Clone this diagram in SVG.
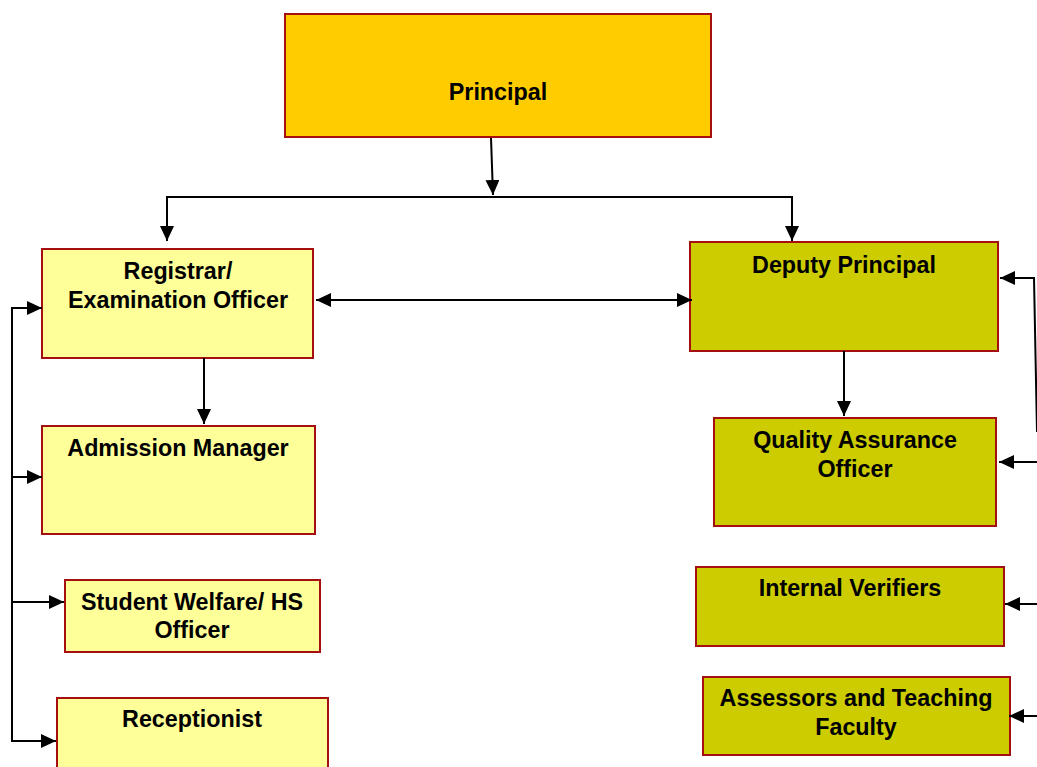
<svg xmlns="http://www.w3.org/2000/svg" width="1037" height="767" viewBox="0 0 1037 767">
<style>
.box{stroke:#A50F0F;stroke-width:2}
.p{fill:#FFCC00}
.y{fill:#FFFF99}
.o{fill:#CCCC00}
text{font-family:"Liberation Sans",Arial,sans-serif;font-weight:bold;font-size:23.3px;fill:#000;text-anchor:middle}
.c{stroke:#000;stroke-width:2;fill:none}
</style>
<defs>
<marker id="a" markerUnits="userSpaceOnUse" markerWidth="17" markerHeight="15" refX="15" refY="7" orient="auto">
<path d="M0,0 L15,7 L0,14 Z" fill="#000"/>
</marker>
<marker id="s" markerUnits="userSpaceOnUse" markerWidth="17" markerHeight="15" refX="0" refY="7" orient="auto">
<path d="M15,0 L0,7 L15,14 Z" fill="#000"/>
</marker>
</defs>
<g id="principal"><rect class="box p" x="285" y="14" width="426" height="123"/><text x="498" y="100">Principal</text></g>
<g id="registrar"><rect class="box y" x="42" y="249" width="271" height="109"/><text x="178" y="279">Registrar/</text><text x="178" y="308">Examination Officer</text></g>
<g id="deputy"><rect class="box o" x="690" y="242" width="308" height="109"/><text x="844" y="273">Deputy Principal</text></g>
<g id="admission"><rect class="box y" x="42" y="426" width="273" height="108"/><text x="178" y="456">Admission Manager</text></g>
<g id="qao"><rect class="box o" x="714" y="418" width="282" height="108"/><text x="855" y="448">Quality Assurance</text><text x="855" y="477">Officer</text></g>
<g id="welfare"><rect class="box y" x="65" y="580" width="255" height="72"/><text x="192" y="610">Student Welfare/ HS</text><text x="192" y="638">Officer</text></g>
<g id="verifiers"><rect class="box o" x="696" y="567" width="308" height="79"/><text x="850" y="596">Internal Verifiers</text></g>
<g id="receptionist"><rect class="box y" x="57" y="698" width="271" height="80"/><text x="192" y="727">Receptionist</text></g>
<g id="assessors"><rect class="box o" x="703" y="677" width="307" height="78"/><text x="856" y="706">Assessors and Teaching</text><text x="856" y="735">Faculty</text></g>
<g id="connectors">
<path class="c" d="M491,138 L493,195" marker-end="url(#a)"/>
<path class="c" d="M167,241 L167,197 L792,197 L792,241" marker-end="url(#a)"/>
<path class="c" d="M167,197 L167,241" marker-end="url(#a)"/>
<path class="c" d="M316,300 L692,300" marker-start="url(#s)" marker-end="url(#a)"/>
<path class="c" d="M204,358 L204,424" marker-end="url(#a)"/>
<path class="c" d="M844,351 L844,416" marker-end="url(#a)"/>
<path class="c" d="M42,308 L12,308 L12,741 L56,741" marker-end="url(#a)"/>
<path class="c" d="M12,308 L42,308" marker-end="url(#a)"/>
<path class="c" d="M12,477 L42,477" marker-end="url(#a)"/>
<path class="c" d="M12,602 L64,602" marker-end="url(#a)"/>
<path class="c" d="M1037,432 L1034,278 L1000,278" marker-end="url(#a)"/>
<path class="c" d="M1037,462 L999,462" marker-end="url(#a)"/>
<path class="c" d="M1037,604 L1005,604" marker-end="url(#a)"/>
<path class="c" d="M1037,716 L1009,716" marker-end="url(#a)"/>
</g>
</svg>
